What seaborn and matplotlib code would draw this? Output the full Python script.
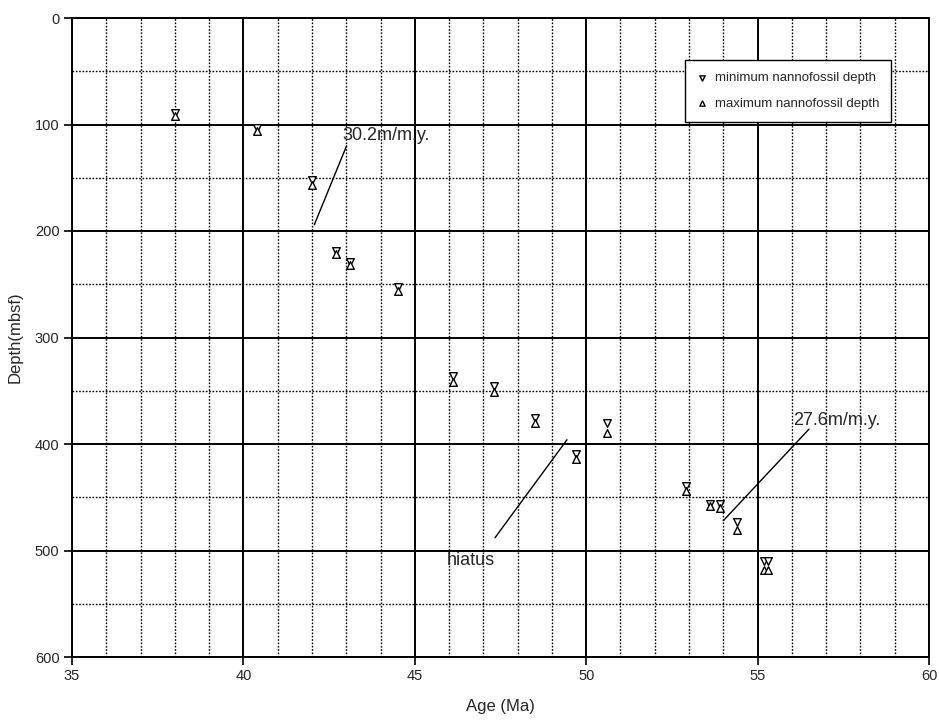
import matplotlib
matplotlib.use("Agg")
import matplotlib.pyplot as plt
import seaborn as sns
import numpy as np
import pandas as pd

ages = [38.0, 40.4, 42.0, 42.7, 43.1, 44.5, 46.1, 47.3, 48.5, 49.7, 50.6, 52.9, 53.6, 53.9, 54.4, 55.2, 55.3]
min_depth = [89, 103, 152, 219, 229, 253, 336, 346, 376, 409, 380, 439, 456, 456, 473, 510, 510]
max_depth = [92, 106, 157, 222, 232, 256, 342, 351, 380, 414, 390, 444, 458, 460, 481, 518, 518]

rate_labels = ["30.2m/m.y.", "hiatus", "27.6m/m.y."]
x_ticks = [35, 40, 45, 50, 55, 60]
y_ticks = [0, 100, 200, 300, 400, 500, 600]

sns.set_style("white")
plt.rcParams['font.family'] = ['Liberation Sans', 'DejaVu Sans']

fig = plt.figure(figsize=(9.39, 7.22), dpi=100)
ax = fig.add_axes([72/939, 1-657/722, (929-72)/939, (657-18)/722])

df_min = pd.DataFrame({"age": ages, "depth": min_depth})
df_max = pd.DataFrame({"age": ages, "depth": max_depth})

# grid
for v in np.arange(35, 61, 1):
    if v % 5 == 0:
        ax.axvline(v, color='black', lw=1.4, zorder=1)
    else:
        ax.axvline(v, color='black', lw=1.0, ls=(0, (1.2, 1.2)), zorder=1)
for v in np.arange(0, 601, 50):
    if v % 100 == 0:
        ax.axhline(v, color='black', lw=1.4, zorder=1)
    else:
        ax.axhline(v, color='black', lw=1.0, ls=(0, (1.2, 1.2)), zorder=1)

sns.scatterplot(data=df_min, x="age", y="depth", marker='v', s=30, color='white',
                edgecolor='black', linewidth=1.0, label='minimum nannofossil depth', ax=ax, zorder=3)
sns.scatterplot(data=df_max, x="age", y="depth", marker='^', s=30, color='white',
                edgecolor='black', linewidth=1.0, label='maximum nannofossil depth', ax=ax, zorder=3)

ax.set_xlim(35, 60)
ax.set_ylim(600, 0)
ax.set_xticks(x_ticks)
ax.set_yticks(y_ticks)
ax.tick_params(axis='both', direction='out', length=6, width=1.2, labelsize=10.5, color='black', pad=3)
ax.tick_params(bottom=True, left=True)
for sp in ax.spines.values():
    sp.set_color('black')
    sp.set_linewidth(1.4)
    sp.set_visible(True)

ax.set_xlabel("Age (Ma)", fontsize=12, labelpad=11)
ax.set_ylabel("Depth(mbsf)", fontsize=12, labelpad=9)

# annotations
ax.plot([43.01, 42.07], [120, 194], color='black', lw=1.0, zorder=4)
ax.text(42.9, 110, rate_labels[0], fontsize=13, va='center', ha='left', zorder=5)
ax.plot([49.44, 47.34], [396, 488], color='black', lw=1.0, zorder=4)
ax.text(45.94, 509, rate_labels[1], fontsize=13, va='center', ha='left', zorder=5)
ax.plot([56.5, 54.0], [386, 472], color='black', lw=1.0, zorder=4)
ax.text(56.05, 378, rate_labels[2], fontsize=13, va='center', ha='left', zorder=5)

leg = ax.legend(loc='upper right', bbox_to_anchor=(0.956, 0.934), borderaxespad=0,
                fontsize=9.5, frameon=True, fancybox=False, framealpha=1, edgecolor='black',
                borderpad=0.9, labelspacing=1.0, handlelength=0.8, handletextpad=0.6,
                markerscale=0.7)
leg.get_frame().set_linewidth(1.0)

fig.savefig("out.png", dpi=100)
